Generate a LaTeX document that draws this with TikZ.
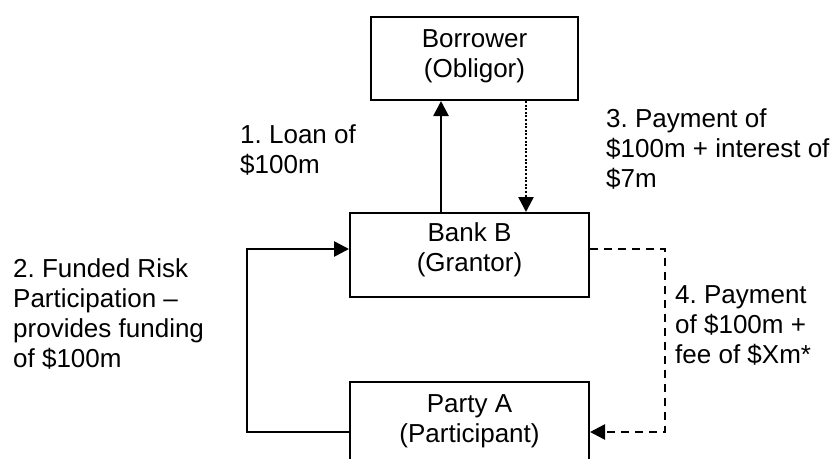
\documentclass[tikz,border=0pt]{standalone}
\usepackage{fontspec}
\setmainfont{Liberation Sans}
\usetikzlibrary{arrows.meta}
\frenchspacing
\newcommand{\lftlines}[1]{\begin{tabular}[t]{@{}l@{}}#1\end{tabular}}
\newcommand{\ctrlines}[1]{\begin{tabular}[t]{@{}c@{}}#1\end{tabular}}
\tikzset{
  party/.style={draw, line width=2pt, inner sep=0pt, minimum width=239pt, minimum height=84pt},
  txt/.style={inner sep=0pt, font=\fontsize{26}{30}\selectfont},
  tip/.style={-{Triangle[length=15pt,width=15pt]}},
  flow/.style={tip, line width=2.7pt},
  dotflow/.style={tip, line width=2.5pt, dash pattern=on 2pt off 1.6pt},
  dashflow/.style={tip, line width=2.5pt, dash pattern=on 8pt off 6pt},
}
\begin{document}
\begin{tikzpicture}[x=1pt, y=-1pt]
  \clip (0,0) rectangle (837,458);
  \fill[white] (0,0) rectangle (837,458);

  % boxes
  \node[party, minimum width=207pt, minimum height=83pt] (bor) at (474.5,58.5) {};
  \node[party] (bank) at (469.5,255) {};
  \node[party] (pa) at (469.5,424) {};

  % box captions
  \node[txt, anchor=base] (bortxt) at (474.5,47) {\ctrlines{Borrower\\(Obligor)}};
  \node[txt, anchor=base] (banktxt) at (469.5,241) {\ctrlines{Bank B\\(Grantor)}};
  \node[txt, anchor=base] (patxt) at (469.5,412) {\ctrlines{Party A\\(Participant)}};

  % routing helpers
  \coordinate (loanx) at (441,0);
  \coordinate (payx) at (526,0);
  \coordinate (topy) at (0,249);
  \coordinate (boty) at (0,432);
  \coordinate (leftx) at (247,0);
  \coordinate (rightx) at (665,0);

  % 1. loan
  \draw[flow] (bank.north -| loanx) -- (bor.south -| loanx);
  % 3. repayment
  \draw[dotflow] (bor.south -| payx) -- (bank.north -| payx);
  % 2. funded participation
  \draw[flow] (pa.west |- boty) -- (leftx |- boty) -- (leftx |- topy) -- (bank.west |- topy);
  % 4. pass-through payment
  \draw[dashflow] (bank.east |- topy) -- (rightx |- topy) -- (rightx |- boty) -- (pa.east |- boty);

  % labels
  \node[txt, anchor=base west] (l1) at (240,143) {\lftlines{1. Loan of\\\$100m}};
  \node[txt, anchor=base west] (l3) at (606,127) {\lftlines{3. Payment of\\\$100m + interest of\\\$7m}};
  \node[txt, anchor=base west] (l2) at (13,277) {\lftlines{2. Funded Risk\\Participation –\\provides funding\\of \$100m}};
  \node[txt, anchor=base west] (l4) at (675,303) {\lftlines{4. Payment\\of \$100m +\\fee of \$Xm*}};
\end{tikzpicture}
\end{document}
